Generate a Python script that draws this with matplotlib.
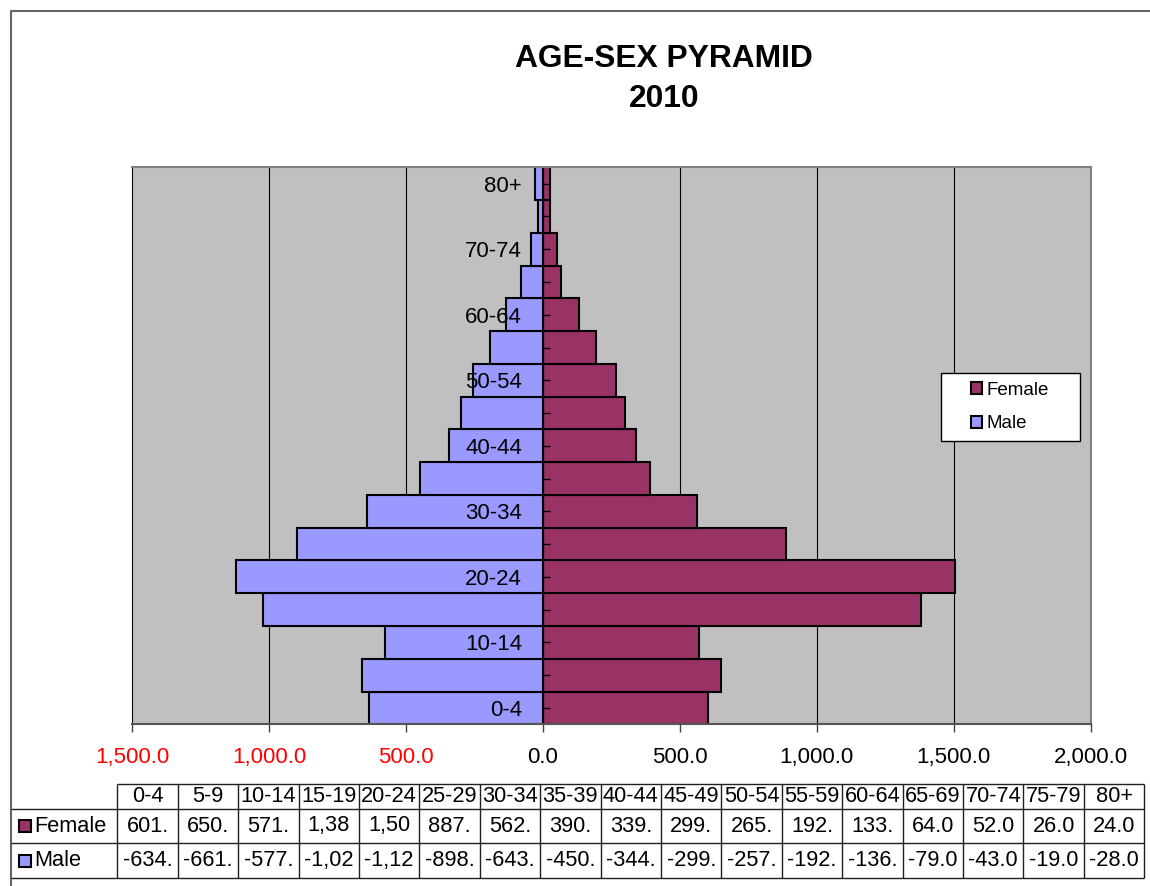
import numpy as np
import matplotlib.pyplot as plt
from matplotlib.patches import Patch, Rectangle

plt.rcParams['font.family'] = ['Liberation Sans', 'DejaVu Sans']

ages = ["0-4", "5-9", "10-14", "15-19", "20-24", "25-29", "30-34", "35-39", "40-44",
        "45-49", "50-54", "55-59", "60-64", "65-69", "70-74", "75-79", "80+"]
female = [601.0, 650.0, 571.0, 1382.0, 1506.0, 887.0, 562.0, 390.0, 339.0,
          299.0, 265.0, 192.0, 133.0, 64.0, 52.0, 26.0, 24.0]
male = [-634.0, -661.0, -577.0, -1022.0, -1122.0, -898.0, -643.0, -450.0, -344.0,
        -299.0, -257.0, -192.0, -136.0, -79.0, -43.0, -19.0, -28.0]
xticks = [-1500, -1000, -500, 0, 500, 1000, 1500, 2000]

FEM_C = '#993366'
MALE_C = '#9999FF'

W, H = 1150, 886
fig = plt.figure(figsize=(W / 100, H / 100), dpi=100)


def px(x0, y0, x1, y1):
    # pixel box (top-left origin) -> figure fraction
    return [x0 / W, 1 - y1 / H, (x1 - x0) / W, (y1 - y0) / H]


ax = fig.add_axes(px(132.3, 167.3, 1090.7, 724.3))
ax.set_facecolor('#C0C0C0')
y = np.arange(len(ages))
for v in xticks:
    ax.axvline(v, color='black', lw=0.8, zorder=1)
ax.barh(y, female, height=1.0, color=FEM_C, edgecolor='black', lw=1.5, zorder=2)
ax.barh(y, male, height=1.0, color=MALE_C, edgecolor='black', lw=1.5, zorder=2)
ax.set_ylim(-0.5, len(ages) - 0.5)
ax.set_xlim(-1500, 2000)
ax.set_axisbelow(False)

ax.set_xticks(xticks)
ax.set_xticklabels([f"{abs(v):,.1f}" for v in xticks])
for lab, v in zip(ax.get_xticklabels(), xticks):
    if v < 0:
        lab.set_color('red')
ax.tick_params(axis='x', direction='out', length=6, width=1, color='#404040',
               labelsize=16, pad=10)

ax.set_yticks(y)
ax.set_yticklabels([a if i % 2 == 0 else '' for i, a in enumerate(ages)])
ax.tick_params(axis='y', direction='in', length=5, width=1, color='black',
               labelsize=16, pad=15)
ax.spines['left'].set_position(('data', 0))
ax.spines['left'].set_color('black')
for s in ['top', 'right']:
    ax.spines[s].set_color('#808080')
    ax.spines[s].set_linewidth(1.5)
ax.spines['bottom'].set_color('#555555')
ax.spines['bottom'].set_linewidth(1.5)

# title
fig.text(664 / W, 1 - 67.3 / H, "AGE-SEX PYRAMID", ha='center', va='baseline',
         fontsize=22.9, fontweight='bold')
fig.text(664 / W, 1 - 107 / H, "2010", ha='center', va='baseline',
         fontsize=22.9, fontweight='bold')

# overlay in pixel coords for chart frame, legend box and data table
ov = fig.add_axes([0, 0, 1, 1])
ov.set_xlim(0, W)
ov.set_ylim(H, 0)
ov.axis('off')
ov.patch.set_alpha(0)

ov.plot([11, 11, W], [H, 11, 11], color='#666666', lw=1.5, clip_on=False)
ov.add_patch(Rectangle((941, 373), 139, 68, fc='white', ec='black', lw=1))

fig.legend(handles=[Patch(fc=FEM_C, ec='black', lw=1.5, label='Female'),
                    Patch(fc=MALE_C, ec='black', lw=1.5, label='Male')],
           loc='center left', bbox_to_anchor=(971 / W, 1 - 407 / H),
           frameon=False, fontsize=13.5, handlelength=0.6, handleheight=0.6,
           handletextpad=0.2, labelspacing=0.9, borderpad=0, borderaxespad=0)

# data table
col0, col1 = 117.3, 1144.3
cw = (col1 - col0) / len(ages)
r_top, r_hdr, r_fem, r_male = 784, 809, 843, 878
lc = '#202020'
ov.hlines(r_top, col0, col1, color=lc, lw=1)
ov.hlines([r_hdr, r_fem, r_male], 11, col1, color=lc, lw=1)
ov.vlines([col0 + k * cw for k in range(len(ages) + 1)], r_top, r_male, color=lc, lw=1)


def cell(v):
    s = f"{v:,.1f}"
    return s[:5] if v < 0 else s[:4]


tfs = 15.7
for i, a in enumerate(ages):
    cx = col0 + (i + 0.5) * cw
    ov.text(cx, (r_top + r_hdr) / 2, a, ha='center', va='center', fontsize=tfs)
    ov.text(cx, (r_hdr + r_fem) / 2, cell(female[i]), ha='center', va='center', fontsize=tfs)
    ov.text(cx, (r_fem + r_male) / 2, cell(male[i]), ha='center', va='center', fontsize=tfs)

for name, c, (ya, yb) in [("Female", FEM_C, (r_hdr, r_fem)), ("Male", MALE_C, (r_fem, r_male))]:
    ym = (ya + yb) / 2
    ov.plot(25, ym, marker='s', ms=8.5, mfc=c, mec='black', mew=1.5)
    ov.text(34, ym, name, ha='left', va='center', fontsize=tfs)

fig.savefig('out.png', dpi=100)
